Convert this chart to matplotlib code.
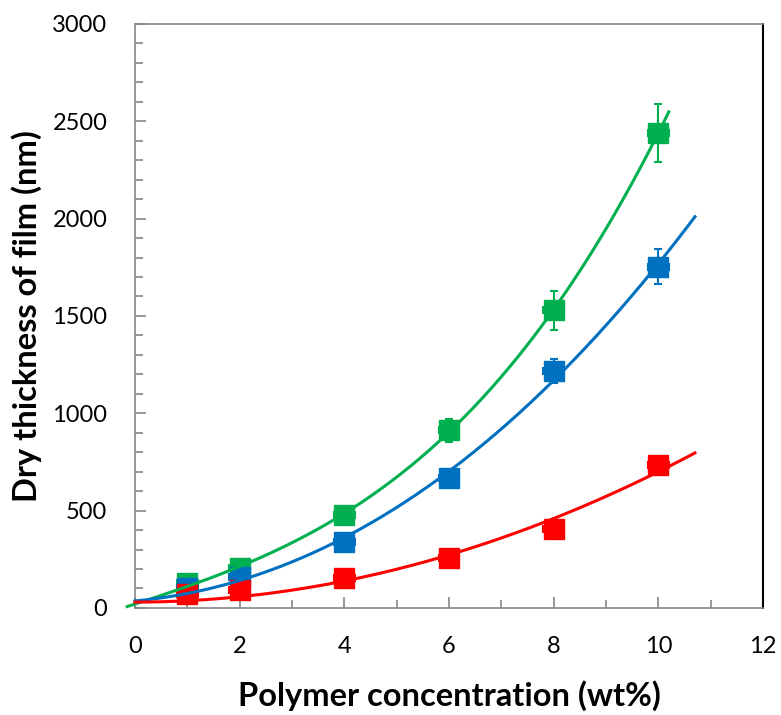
import matplotlib.pyplot as plt
import numpy as np

plt.rcParams['font.family'] = ['Lato', 'DejaVu Sans']

conc = np.array([1, 2, 4, 6, 8, 10])

green_y = np.array([128, 205, 478, 912, 1530, 2440])
green_err = np.array([10, 15, 25, 60, 100, 150])
blue_y = np.array([105, 160, 340, 668, 1217, 1752])
blue_err = np.array([10, 15, 20, 25, 60, 90])
red_y = np.array([70, 90, 155, 258, 406, 735])
red_err = np.array([5, 8, 10, 12, 15, 25])
x_err = 0.2

# trend line intercepts read at x = 0
green_y0 = 20
blue_y0 = 35
red_y0 = 28

green = "#00B050"
blue = "#0070C0"
red = "#FF0000"

fig = plt.figure(figsize=(7.81, 7.15), dpi=100)
ax = fig.add_axes([0.1729, 0.1497, 0.804, 0.8168])

series = [
    (green_y, green_err, green_y0, green, (-0.15, 10.2), 3),
    (blue_y, blue_err, blue_y0, blue, (0.0, 10.7), 3),
    (red_y, red_err, red_y0, red, (0.0, 10.7), 2),
]

for i, (y, err, y0, col, (x0, x1), deg) in enumerate(series):
    ax.errorbar(conc, y, yerr=err, xerr=x_err, fmt="s", color=col, ecolor=col,
                markersize=14, elinewidth=1.5, capsize=3, capthick=1.5,
                zorder=2 + i, clip_on=False)
    fx = np.concatenate([[0], conc])
    fy = np.concatenate([[y0], y])
    w = np.concatenate([[5], np.ones(len(conc))])
    coef = np.polyfit(fx, fy, deg, w=w)
    xs = np.linspace(x0, x1, 200)
    ax.plot(xs, np.polyval(coef, xs), color=col, lw=2.2, zorder=6 + i,
            clip_on=False)

ax.set_xlim(0, 12)
ax.set_ylim(0, 3000)
ax.set_xticks(range(0, 13, 2))
ax.set_xticks(range(0, 13, 1), minor=True)
ax.set_yticks(range(0, 3001, 500))
ax.set_yticks(range(0, 3001, 100), minor=True)

for s in ["left", "bottom", "top"]:
    ax.spines[s].set_color("#868686")
    ax.spines[s].set_linewidth(1.2)
ax.spines["right"].set_color("black")
ax.spines["right"].set_linewidth(1.5)

ax.tick_params(which="both", direction="in", color="#868686", width=1.2,
               labelsize=17, pad=20, right=False, top=False)
ax.tick_params(which="major", length=8)
ax.tick_params(which="minor", length=6)

ax.set_xlabel("Polymer concentration (wt%)", fontsize=23.5, fontweight="bold",
              labelpad=17)
ax.set_ylabel("Dry thickness of film (nm)", fontsize=23.5, fontweight="bold",
              labelpad=7)

fig.savefig("out.png", dpi=100)
